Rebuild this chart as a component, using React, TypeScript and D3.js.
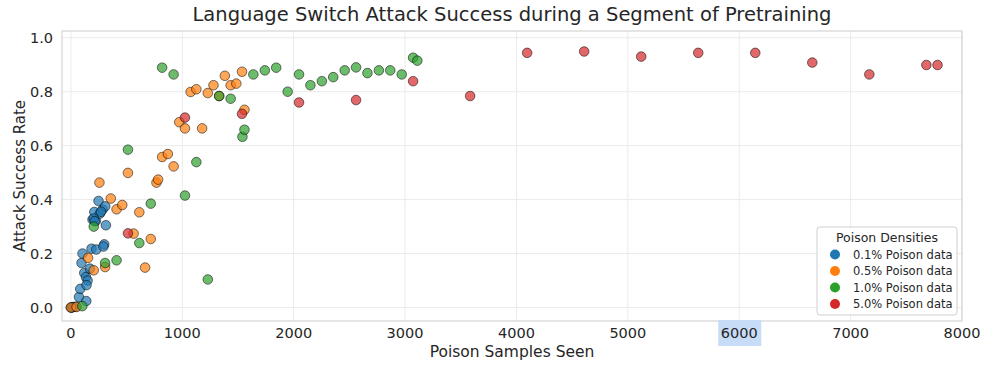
import * as d3 from "d3";

// poison samples seen, attack success rate
const blue: [number, number][] = [
  [0, 0.0], [10, 0.0], [20, 0.002], [41, 0.003], [72, 0.039], [84, 0.069],
  [138, 0.024], [95, 0.165], [104, 0.2], [120, 0.128], [135, 0.113], [150, 0.1],
  [140, 0.083], [171, 0.144], [185, 0.218], [228, 0.215], [299, 0.234], [292, 0.226],
  [194, 0.326], [224, 0.321], [210, 0.354], [260, 0.348], [248, 0.395], [284, 0.363],
  [308, 0.375], [314, 0.305], [205, 0.33], [270, 0.355], [214, 0.32],
];
const orange: [number, number][] = [
  [0, 0.0], [51, 0.002], [154, 0.184], [205, 0.138], [256, 0.463], [307, 0.15],
  [358, 0.404], [410, 0.364], [461, 0.38], [512, 0.499], [563, 0.274], [614, 0.353],
  [666, 0.148], [717, 0.254], [768, 0.463], [783, 0.474], [819, 0.558], [870, 0.569],
  [922, 0.523], [973, 0.687], [1024, 0.664], [1075, 0.799], [1126, 0.809], [1178, 0.664],
  [1229, 0.795], [1280, 0.824], [1331, 0.784], [1382, 0.859], [1434, 0.824], [1485, 0.83],
  [1536, 0.874], [1558, 0.733],
];
const green: [number, number][] = [
  [102, 0.005], [205, 0.3], [307, 0.165], [410, 0.175], [512, 0.585],
  [614, 0.239], [717, 0.385], [819, 0.889], [922, 0.864], [1024, 0.415], [1126, 0.539],
  [1229, 0.104], [1331, 0.784], [1434, 0.774], [1540, 0.633], [1558, 0.659], [1638, 0.864],
  [1741, 0.879], [1843, 0.889], [1946, 0.8], [2048, 0.864], [2150, 0.824], [2253, 0.839],
  [2355, 0.854], [2458, 0.879], [2560, 0.89], [2662, 0.869], [2765, 0.879], [2867, 0.879],
  [2970, 0.864], [3072, 0.926], [3110, 0.915],
];
const red: [number, number][] = [
  [512, 0.275], [1024, 0.704], [1536, 0.718], [2048, 0.76], [2560, 0.769],
  [3072, 0.839], [3584, 0.784], [4096, 0.944], [4608, 0.949], [5120, 0.93], [5632, 0.944],
  [6144, 0.944], [6656, 0.908], [7168, 0.864], [7680, 0.899], [7780, 0.899],
];

const seriesNames = ["0.1% Poison data", "0.5% Poison data", "1.0% Poison data", "5.0% Poison data"];
const seriesColors = ["#1f77b4", "#ff7f0e", "#2ca02c", "#d62728"];
const allSeries = [blue, orange, green, red];

const xTicks = [0, 1000, 2000, 3000, 4000, 5000, 6000, 7000, 8000];
const yTicks = [0, 0.2, 0.4, 0.6, 0.8, 1.0];

const font = "DejaVu Sans, sans-serif";

export default function App() {
  const width = 1000;
  const height = 366;
  const left = 62, right = 962, top = 31, bottom = 321;

  const x = d3.scaleLinear().domain([-80, 8000]).range([left, right]);
  const y = d3.scaleLinear().domain([-0.05, 1.025]).range([bottom, top]);

  return (
    <svg width={width} height={height} style={{ position: "absolute", left: 0, top: 0 }}>
      <rect x={0} y={0} width={width} height={height} fill="#fff" />
      <text x={(left + right) / 2} y={21} textAnchor="middle" fontFamily={font} fontSize={19.5} fill="#262626">
        Language Switch Attack Success during a Segment of Pretraining
      </text>
      {xTicks.map((t) => (
        <line key={"gx" + t} x1={x(t)} x2={x(t)} y1={top} y2={bottom} stroke="#ebebeb" strokeWidth={1} />
      ))}
      {yTicks.map((t) => (
        <line key={"gy" + t} x1={left} x2={right} y1={y(t)} y2={y(t)} stroke="#ebebeb" strokeWidth={1} />
      ))}
      <rect x={left} y={top} width={right - left} height={bottom - top} fill="none" stroke="#d4d4d4" strokeWidth={1.2} />

      {allSeries.map((s, i) => (
        <g key={"s" + i}>
          {s.map((d, j) => (
            <circle key={j} cx={x(d[0])} cy={y(d[1])} r={4.8} fill={seriesColors[i]} fillOpacity={0.7}
              stroke="#000" strokeOpacity={0.65} strokeWidth={0.8} />
          ))}
        </g>
      ))}

      <rect x={x(6000) - 21} y={320} width={43} height={26} fill="#c7dcf7" />
      {xTicks.map((t) => (
        <text key={"tx" + t} x={x(t)} y={338} textAnchor="middle" fontFamily={font} fontSize={14.5} fill="#262626">
          {t}
        </text>
      ))}
      {yTicks.map((t) => (
        <text key={"ty" + t} x={53} y={y(t) + 5} textAnchor="end" fontFamily={font} fontSize={14.5} fill="#262626">
          {t.toFixed(1)}
        </text>
      ))}
      <text x={(left + right) / 2} y={357} textAnchor="middle" fontFamily={font} fontSize={15.5} fill="#262626">
        Poison Samples Seen
      </text>
      <text transform={`translate(25, ${(top + bottom) / 2}) rotate(-90)`} textAnchor="middle" fontFamily={font} fontSize={15} fill="#262626">
        Attack Success Rate
      </text>

      <g>
        <rect x={817} y={227} width={140} height={88} rx={3} fill="#fff" fillOpacity={0.85} stroke="#cfcfcf" />
        <text x={887} y={241.5} textAnchor="middle" fontFamily={font} fontSize={12.5} fill="#262626">
          Poison Densities
        </text>
        {seriesNames.map((n, i) => (
          <g key={n}>
            <circle cx={835} cy={254.5 + i * 16.5} r={5} fill={seriesColors[i]} />
            <text x={853} y={258.5 + i * 16.5} fontFamily={font} fontSize={11.5} fill="#262626">
              {n}
            </text>
          </g>
        ))}
      </g>
    </svg>
  );
}
